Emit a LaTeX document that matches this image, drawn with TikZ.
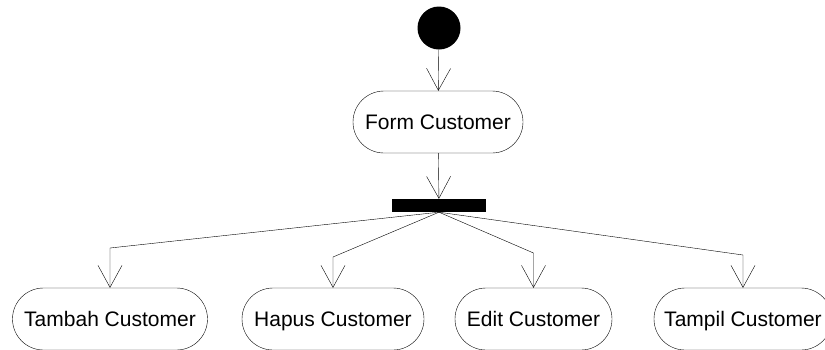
\documentclass[tikz,border=0pt]{standalone}
\usepackage{fontspec}
\setmainfont{Liberation Sans}
\usetikzlibrary{arrows.meta}
\tikzset{
	x=1pt,
	y=-1pt,
	>={Straight Barb[length=22pt,width=24pt]},
	line width=1.2pt,
	startnode/.style={
		circle,
		fill=black,
		minimum size=43pt,
		inner sep=0pt
	},
	activity/.style={
		draw=black,
		rectangle,
		rounded corners=31pt,
		minimum height=62pt,
		inner xsep=0pt,
		text height=15pt,
		text depth=0pt,
		font=\fontsize{21}{25}\selectfont
	},
	forkbar/.style={
		fill=black,
		minimum width=94pt,
		minimum height=13pt,
		inner sep=0pt
	}
}

\begin{document}
\begin{tikzpicture}
  \useasboundingbox (0,0) rectangle (825,349);

  \node [startnode] (start) at (439,28) {};
  \node [activity, minimum width=170pt] (form) at (438,122) {Form Customer};
  \node [forkbar] (fork) at (439,205.5) {};

  \node [activity, minimum width=195pt] (tambah) at (110,319) {Tambah Customer};
  \node [activity, minimum width=182pt] (hapus) at (333,319) {Hapus Customer};
  \node [activity, minimum width=157pt] (edit) at (533.5,319) {Edit Customer};
  \node [activity, minimum width=178pt] (tampil) at (743,319) {Tampil Customer};

  % titik belok
  \coordinate (b1) at (110,248);
  \coordinate (b2) at (333,257);
  \coordinate (b3) at (533.5,253);
  \coordinate (b4) at (743,255);

  \draw [->] (start) -- (form);
  \draw [->] (form) -- (fork);
  \draw [->] (fork.south) -- (b1) -- (tambah.north);
  \draw [->] (fork.south) -- (b2) -- (hapus.north);
  \draw [->] (fork.south) -- (b3) -- (edit.north);
  \draw [->] (fork.south) -- (b4) -- (tampil.north);
\end{tikzpicture}
\end{document}
